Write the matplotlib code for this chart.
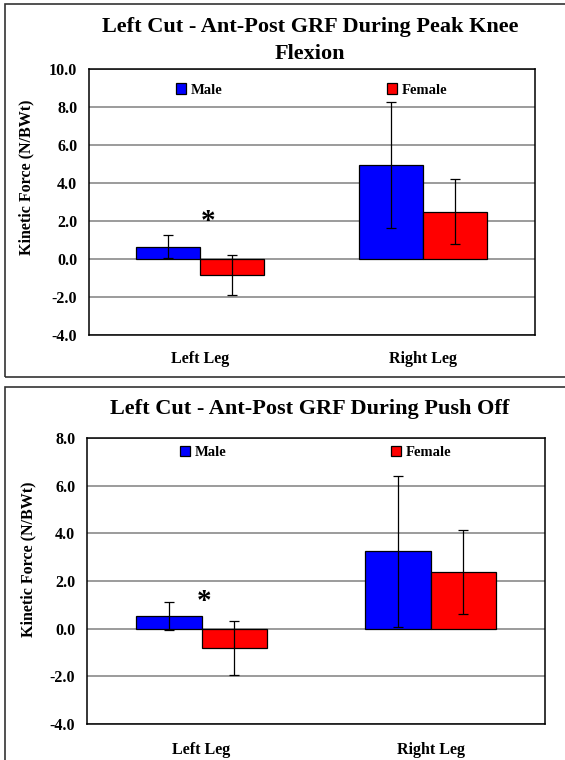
import matplotlib
matplotlib.use("Agg")
import matplotlib.pyplot as plt
import numpy as np
from matplotlib.patches import Rectangle
from matplotlib.ticker import FormatStrFormatter

plt.rcParams['font.family'] = ['Liberation Serif', 'DejaVu Serif']
plt.rcParams['font.weight'] = 'bold'
plt.rcParams['axes.unicode_minus'] = False

legs = ["Left Leg", "Right Leg"]
series = ["Male", "Female"]

# peak knee flexion
pk_male = [0.65, 4.94]
pk_male_sd = [0.60, 3.33]
pk_female = [-0.86, 2.50]
pk_female_sd = [1.05, 1.70]

# push off
po_male = [0.53, 3.24]
po_male_sd = [0.60, 3.18]
po_female = [-0.82, 2.36]
po_female_sd = [1.13, 1.76]

fig = plt.figure(figsize=(5.65, 7.6), dpi=100)

# outer chart frames
fig.patches.append(Rectangle((0.0097, 0.504), 1.1, 0.491, transform=fig.transFigure,
                             fill=False, edgecolor='#333333', linewidth=1.2))
fig.patches.append(Rectangle((0.0097, -0.1), 1.1, 0.5908, transform=fig.transFigure,
                             fill=False, edgecolor='#333333', linewidth=1.2))


def bar_panel(rect, male, male_sd, female, female_sd, ylim, star, leg_y, xpad):
    ax = fig.add_axes(rect)
    x = np.arange(len(legs))
    w = 0.287
    ax.bar(x - w / 2, male, w, color='#0000FF', edgecolor='black', linewidth=0.9,
           label=series[0], zorder=3)
    ax.bar(x + w / 2, female, w, color='#FF0000', edgecolor='black', linewidth=0.9,
           label=series[1], zorder=3)
    ax.errorbar(x - w / 2, male, yerr=male_sd, fmt='none', ecolor='black',
                elinewidth=0.9, capsize=3.5, capthick=0.9, zorder=4)
    ax.errorbar(x + w / 2, female, yerr=female_sd, fmt='none', ecolor='black',
                elinewidth=0.9, capsize=3.5, capthick=0.9, zorder=4)
    ax.set_xlim(-0.5, 1.5)
    ax.set_ylim(*ylim)
    ax.set_yticks(np.arange(ylim[0], ylim[1] + 0.1, 2.0))
    ax.yaxis.set_major_formatter(FormatStrFormatter('%.1f'))
    ax.set_xticks(x)
    ax.set_xticklabels(legs)
    ax.tick_params(axis='y', length=0, pad=8.5, labelsize=11.5)
    ax.tick_params(axis='x', length=0, pad=xpad, labelsize=11.5)
    ax.grid(axis='y', color='#808080', linewidth=1.1, zorder=0)
    ax.set_axisbelow(True)
    for s in ax.spines.values():
        s.set_linewidth(1.1)
    ax.text(star[0], star[1], '*', fontsize=21, ha='center', va='center', zorder=5)
    ax.legend(loc='center', bbox_to_anchor=(0.5, leg_y), ncol=2, frameon=False,
              fontsize=10.5, handlelength=0.65, handleheight=0.7, handletextpad=0.35,
              columnspacing=11.3)
    return ax


bar_panel([0.1575, 0.5592, 0.7894, 0.35], pk_male, pk_male_sd, pk_female, pk_female_sd,
          (-4.0, 10.0), (0.034, 1.95), 0.921, 11.5)
bar_panel([0.154, 0.04737, 0.8106, 0.3763], po_male, po_male_sd, po_female, po_female_sd,
          (-4.0, 8.0), (0.011, 1.12), 0.948, 13)

fig.text(0.549, 0.947, "Left Cut - Ant-Post GRF During Peak Knee\nFlexion", ha='center',
         va='center', fontsize=16, linespacing=1.45)
fig.text(0.549, 0.4618, "Left Cut - Ant-Post GRF During Push Off", ha='center',
         va='center', fontsize=16)
fig.text(0.046, 0.767, "Kinetic Force (N/BWt)", rotation=90, ha='center', va='center',
         fontsize=11.5)
fig.text(0.051, 0.2645, "Kinetic Force (N/BWt)", rotation=90, ha='center', va='center',
         fontsize=11.5)

fig.savefig("out.png", dpi=100)
